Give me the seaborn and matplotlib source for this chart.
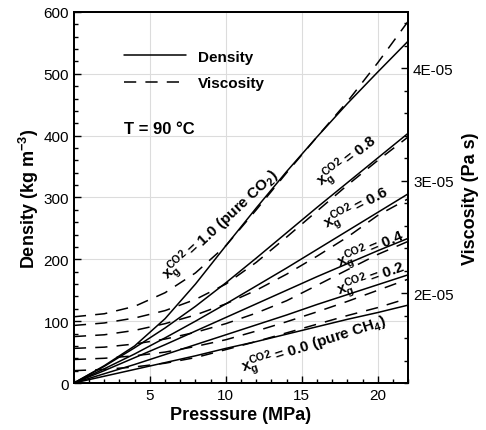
import matplotlib
matplotlib.use("Agg")
import matplotlib.pyplot as plt
import matplotlib.ticker as mticker
import pandas as pd
import seaborn as sns

# pressure grid (MPa)
pressure = [0, 2, 4, 6, 8, 10, 12, 14, 16, 18, 20, 22]
fractions = ["0.0", "0.2", "0.4", "0.6", "0.8", "1.0"]

# density (kg m-3)
density = {
    "0.0": [0, 11, 22, 33, 44, 56, 67, 79, 91, 103, 114, 126],
    "0.2": [0, 15, 30, 46, 62, 78, 94, 110, 127, 143, 159, 175],
    "0.4": [0, 20, 41, 62, 84, 106, 128, 150, 172, 193, 214, 234],
    "0.6": [0, 23, 47, 73, 100, 128, 157, 186, 216, 246, 276, 306],
    "0.8": [0, 27, 57, 89, 124, 162, 202, 243, 284, 324, 364, 404],
    "1.0": [0, 28, 60, 104, 160, 222, 283, 342, 398, 452, 503, 553],
}

# viscosity (Pa s, x1e-5)
viscosity = {
    "0.0": [1.310, 1.321, 1.343, 1.376, 1.426, 1.497, 1.569, 1.646, 1.723, 1.800, 1.871, 1.954],
    "0.2": [1.409, 1.420, 1.442, 1.475, 1.525, 1.585, 1.662, 1.745, 1.833, 1.926, 2.025, 2.124],
    "0.4": [1.508, 1.519, 1.547, 1.591, 1.651, 1.728, 1.822, 1.932, 2.069, 2.207, 2.344, 2.460],
    "0.6": [1.613, 1.629, 1.668, 1.728, 1.805, 1.904, 2.025, 2.168, 2.328, 2.498, 2.691, 2.839],
    "0.8": [1.712, 1.734, 1.778, 1.844, 1.943, 2.080, 2.273, 2.498, 2.729, 2.960, 3.180, 3.389],
    "1.0": [1.789, 1.816, 1.882, 2.003, 2.179, 2.421, 2.740, 3.070, 3.389, 3.703, 4.049, 4.418],
}

curve_labels = [
    r"$x_g^{CO2}$ = 0.0 (pure CH$_4$)",
    r"$x_g^{CO2}$ = 0.2",
    r"$x_g^{CO2}$ = 0.4",
    r"$x_g^{CO2}$ = 0.6",
    r"$x_g^{CO2}$ = 0.8",
    r"$x_g^{CO2}$ = 1.0 (pure CO$_2$)",
]
label_x = [15.8, 19.6, 19.6, 18.6, 18.0, 9.7]
label_y = [61, 168, 215, 283, 359, 256]
label_rot = [18, 20, 23, 28, 38, 43]

rows = []
for f in fractions:
    for p, d, v in zip(pressure, density[f], viscosity[f]):
        rows.append({"P": p, "frac": f, "rho": d, "mu": v * 1e-5})
df = pd.DataFrame(rows)

sns.set_style("ticks")
plt.rcParams["font.family"] = ["Liberation Sans", "DejaVu Sans"]
plt.rcParams["mathtext.fontset"] = "custom"
plt.rcParams["mathtext.rm"] = "Liberation Sans:bold"
plt.rcParams["mathtext.it"] = "Liberation Sans:bold"
plt.rcParams["mathtext.bf"] = "Liberation Sans:bold"
plt.rcParams["text.color"] = "black"
plt.rcParams["axes.labelcolor"] = "black"
plt.rcParams["xtick.color"] = "black"
plt.rcParams["ytick.color"] = "black"

fig = plt.figure(figsize=(4.86, 4.31), dpi=100)
ax = fig.add_axes([0.152, 0.109, 0.688, 0.861])
ax2 = ax.twinx()

for f in fractions:
    sub = df[df["frac"] == f]
    sns.lineplot(data=sub, x="P", y="rho", ax=ax, color="black", lw=1.1)
    sns.lineplot(data=sub, x="P", y="mu", ax=ax2, color="black", lw=1.1,
                 linestyle=(0, (8, 6)))

ax.set_xlim(0, 22)
ax.set_ylim(0, 600)
ax2.set_ylim(1.2e-5, 4.5e-5)

ax.xaxis.set_major_locator(mticker.FixedLocator([5, 10, 15, 20]))
ax.xaxis.set_minor_locator(mticker.MultipleLocator(1))
ax.yaxis.set_major_locator(mticker.MultipleLocator(100))
ax.yaxis.set_minor_locator(mticker.MultipleLocator(20))
ax2.yaxis.set_major_locator(mticker.FixedLocator([2e-5, 3e-5, 4e-5]))
ax2.yaxis.set_minor_locator(mticker.MultipleLocator(0.2e-5))
ax2.yaxis.set_major_formatter(mticker.FuncFormatter(lambda v, pos: f"{v:.0E}"))

for a in (ax, ax2):
    a.tick_params(which="both", direction="in", labelsize=11, width=1)
    a.tick_params(which="major", length=5)
    a.tick_params(which="minor", length=3)
    for s in a.spines.values():
        s.set_linewidth(1.4)
        s.set_color("black")
ax.tick_params(top=False, right=False)

ax.grid(True, which="major", color="#dcdcdc", lw=0.8)
ax.set_axisbelow(True)

ax.set_xlabel("Presssure (MPa)", fontsize=13, fontweight="bold", labelpad=3)
ax.set_ylabel(r"Density (kg m$^{-3}$)", fontsize=13, fontweight="bold", labelpad=2)
ax2.set_ylabel("Viscosity (Pa s)", fontsize=13, fontweight="bold", labelpad=6)

for txt, x, y, r in zip(curve_labels, label_x, label_y, label_rot):
    ax.text(x, y, txt, fontsize=11, fontweight="bold", rotation=r,
            rotation_mode="anchor", ha="center", va="center")

ax.text(3.3, 412, "T = 90 °C", fontsize=12, fontweight="bold", ha="left", va="center")

handles = [ax.lines[0], ax2.lines[0]]
leg = ax2.legend(handles, ["Density", "Viscosity"], loc="upper left",
                 bbox_to_anchor=(0.11, 0.935), frameon=False, handlelength=4,
                 labelspacing=0.8, prop={"weight": "bold", "size": 11})

fig.savefig("out.png", dpi=100)
